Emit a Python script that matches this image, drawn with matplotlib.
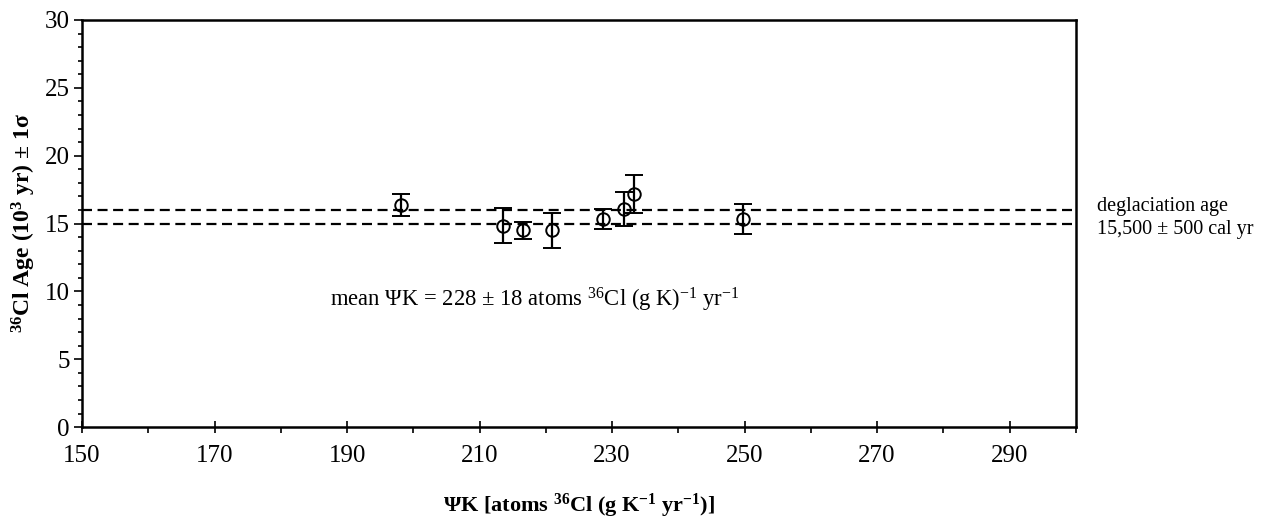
import numpy as np
import matplotlib
matplotlib.use("Agg")
import matplotlib.pyplot as plt
from matplotlib.ticker import MultipleLocator

plt.rcParams['font.family'] = ['Liberation Serif', 'DejaVu Serif']
plt.rcParams['mathtext.default'] = 'regular'

# psi K values, 36Cl ages (ka) and 1 sigma errors
psik = [198.2, 213.5, 216.5, 221.0, 228.7, 231.8, 233.3, 249.7]
age = [16.35, 14.85, 14.5, 14.5, 15.35, 16.05, 17.2, 15.35]
err = [0.8, 1.3, 0.65, 1.3, 0.75, 1.25, 1.4, 1.1]

deglac_lo = 15.0
deglac_hi = 16.0

fig = plt.figure(figsize=(12.7, 5.19), dpi=100)
ax = fig.add_axes([0.0646, 0.177, 0.7825, 0.7845])

ax.axhline(deglac_hi, color='black', lw=1.6, ls=(0, (4.5, 2.5)), zorder=1)
ax.axhline(deglac_lo, color='black', lw=1.6, ls=(0, (4.5, 2.5)), zorder=1)

ax.errorbar(psik, age, yerr=err, fmt='o', mfc='none', mec='black', ms=9,
            mew=1.4, ecolor='black', elinewidth=1.6, capsize=6.5,
            capthick=1.6, color='black', zorder=3)

ax.set_xlim(150, 300)
ax.set_ylim(0, 30)
ax.xaxis.set_major_locator(MultipleLocator(20, offset=10))
ax.xaxis.set_minor_locator(MultipleLocator(10))
ax.yaxis.set_major_locator(MultipleLocator(5))
ax.yaxis.set_minor_locator(MultipleLocator(1))
ax.tick_params(axis='x', which='major', direction='inout', length=8, width=1.2,
               labelsize=18, pad=9)
ax.tick_params(axis='x', which='minor', direction='out', length=4, width=1.2)
ax.tick_params(axis='y', which='major', direction='out', length=6, width=1.2,
               labelsize=18, pad=3)
ax.tick_params(axis='y', which='minor', direction='out', length=3, width=1.2)
for s in ax.spines.values():
    s.set_linewidth(1.8)

ax.set_xlabel(r'ΨK [atoms $^{36}$Cl (g K$^{-1}$ yr$^{-1}$)]', fontsize=16,
              fontweight='bold', labelpad=18)
ax.set_ylabel(r'$^{36}$Cl Age (10$^{3}$ yr) ± 1σ', fontsize=17,
              fontweight='bold', labelpad=5)

ax.text(187.4, 9.35, r'mean ΨK = 228 ± 18 atoms $^{36}$Cl (g K)$^{-1}$ yr$^{-1}$',
        fontsize=16.3, va='center', ha='left')
fig.text(0.864, 0.58, 'deglaciation age\n15,500 ± 500 cal yr', fontsize=14.5,
         va='center', ha='left', linespacing=1.35)

fig.savefig('out.png', dpi=100)
